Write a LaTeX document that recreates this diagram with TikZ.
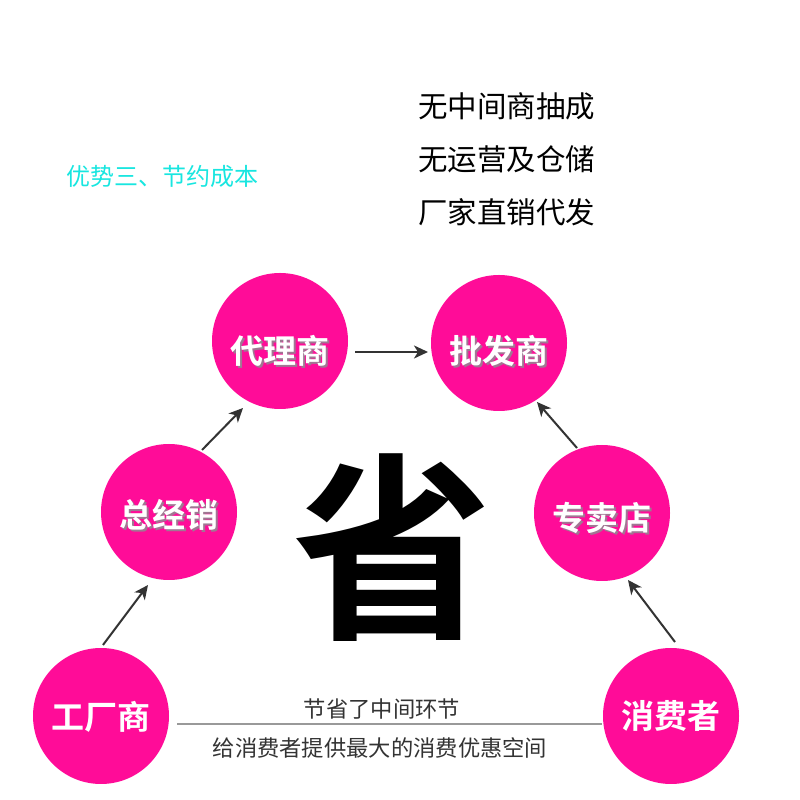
\documentclass[tikz,border=0pt]{standalone}
\usepackage{fontspec}
\newfontfamily\cjk{Noto Sans CJK SC}[BoldFont={Noto Sans CJK SC Bold}]
\usetikzlibrary{calc,arrows.meta}
\definecolor{mag}{RGB}{255,12,152}
\definecolor{dk}{RGB}{51,51,51}
\definecolor{cyn}{RGB}{24,230,224}
\definecolor{shd}{RGB}{120,60,100}
% text lowered by #1 pt below the circle centre, with a soft drop shadow
\newcommand{\sh}[2]{\raisebox{-\dimexpr 12.5pt+#1pt\relax}[0pt][0pt]{\makebox[0pt][l]{\raisebox{-2pt}{\hspace{2pt}\textcolor{shd!70}{#2}}}#2}}
\newcommand{\ns}[2]{\raisebox{-\dimexpr 12.5pt+#1pt\relax}[0pt][0pt]{#2}}
\tikzset{
  ball/.style={circle,fill=mag,minimum size=136pt,inner sep=0pt,text=white,font=\cjk\bfseries\fontsize{33}{33}\selectfont},
  arr/.style={draw=dk,line width=2pt,-{Stealth[length=14pt,width=13pt,inset=4pt]}},
  side/.style={anchor=west,font=\cjk\fontsize{29.5}{29.5}\selectfont,text=black,inner sep=0pt},
  note/.style={font=\cjk\fontsize{22.3}{22.3}\selectfont,text=dk,inner sep=0pt}
}
\begin{document}
\begin{tikzpicture}[x=1pt,y=1pt]
\useasboundingbox[fill=white] (0,0) rectangle (800,800);
\node[side,text=cyn,font=\cjk\fontsize{24}{24}\selectfont] (title) at (66,624) {优势三、节约成本};
\node[side] (t1) at (418,694) {无中间商抽成};
\node[side] (t2) at (418,641) {无运营及仓储};
\node[side] (t3) at (418,588) {厂家直销代发};
\node[font=\cjk\bfseries\fontsize{200}{200}\selectfont,inner sep=0pt] (sheng) at (392,252) {省};
\node[ball] (gc) at (101,84) {\ns{1}{工厂商}};
\node[ball] (zj) at (169,288) {\sh{3}{总经销}};
\node[ball] (dl) at (280,459) {\sh{10}{代理商}};
\node[ball] (pf) at (499,457) {\sh{8}{批发商}};
\node[ball] (zm) at (602,287) {\sh{5}{专卖店}};
\node[ball] (xf) at (671,84) {\ns{0}{消费者}};
\draw[arr] ($(gc.center)+(2,71)$) -- ($(zj.center)+(-21,-73)$);
\draw[arr] ($(zj.center)+(33,62)$) -- ($(dl.center)+(-37,-67)$);
\draw[arr] ($(dl.center)+(75,-11)$) -- ($(pf.center)+(-71,-9)$);
\draw[arr] ($(xf.center)+(4,74)$) -- ($(zm.center)+(26,-67)$);
\draw[arr] ($(zm.center)+(-25,65)$) -- ($(pf.center)+(38,-59)$);
\draw[line width=1.8pt,color=black!40] (gc.east) ++(8,-8) coordinate (l1) -- ($(xf.west)+(-1,-8)$) coordinate (l2);
\node[note] (n1) at (382,91) {节省了中间环节};
\node[note] (n2) at (380,52) {给消费者提供最大的消费优惠空间};
\end{tikzpicture}
\end{document}
